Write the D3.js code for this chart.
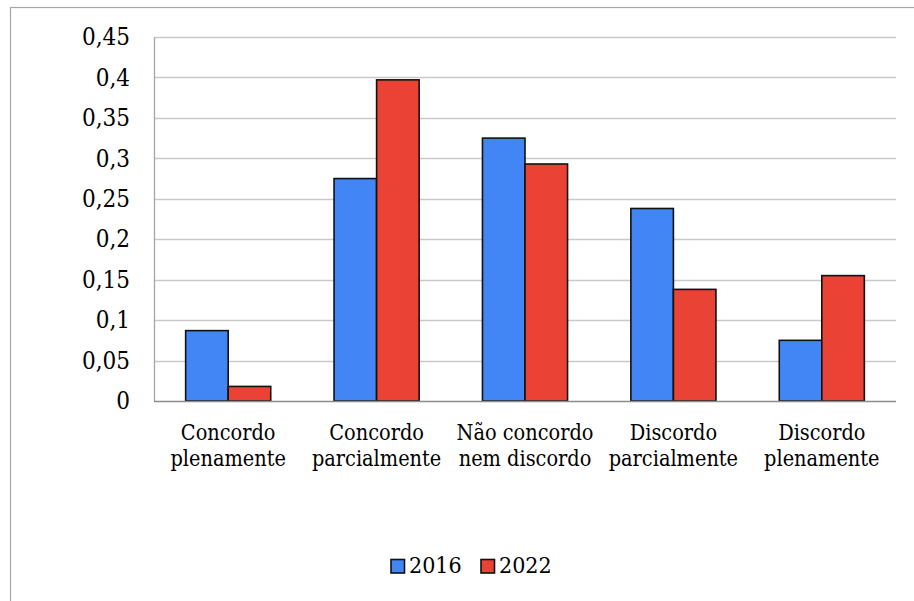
<!DOCTYPE html>
<html>
<head>
<meta charset="utf-8">
<script src="https://cdn.jsdelivr.net/npm/d3@7"></script>
<style>
  html, body { margin: 0; padding: 0; background: #fff; }
  svg { display: block; }
</style>
</head>
<body>
<svg id="chart" width="914" height="601"></svg>
<script>
// Answer categories (two-line labels)
const categories = [
  ["Concordo", "plenamente"],
  ["Concordo", "parcialmente"],
  ["Não concordo", "nem discordo"],
  ["Discordo", "parcialmente"],
  ["Discordo", "plenamente"]
];
const seriesNames = ["2016", "2022"];
const values2016 = [0.087, 0.275, 0.325, 0.238, 0.075];
const values2022 = [0.018, 0.397, 0.293, 0.138, 0.155];
const tickValues = [0, 0.05, 0.1, 0.15, 0.2, 0.25, 0.3, 0.35, 0.4, 0.45];
const colors = ["#4285f4", "#ea4335"];

const serifFont = "'DejaVu Serif Condensed', 'DejaVu Serif'";
const svg = d3.select("#chart");
const W = 914, H = 601;

// outer chart frame (runs past the right and bottom edges)
svg.append("rect")
  .attr("x", 10.5).attr("y", 7.5)
  .attr("width", W + 20).attr("height", H + 20)
  .attr("fill", "#fff").attr("stroke", "#a6a6a6").attr("stroke-width", 1.2);

const plotLeft = 154, plotRight = 896, plotTop = 37, plotBottom = 401;

const x = d3.scaleBand()
  .domain(d3.range(categories.length))
  .range([plotLeft, plotRight])
  .paddingInner(0.4267).paddingOuter(0.2133);
const xs = d3.scaleBand().domain(seriesNames).range([0, x.bandwidth()]);
const y = d3.scaleLinear().domain([0, 0.45]).range([plotBottom, plotTop]);

// gridlines
svg.append("g")
  .selectAll("line").data(tickValues.filter(d => d > 0)).join("line")
  .attr("x1", plotLeft).attr("x2", plotRight)
  .attr("y1", d => Math.round(y(d)) + 0.5).attr("y2", d => Math.round(y(d)) + 0.5)
  .attr("stroke", "#c9c9c9").attr("stroke-width", 1.3);

// y-axis labels
const fmt = d => d === 0 ? "0" : String(+d.toFixed(2)).replace(".", ",");
const yAxis = d3.axisLeft(y).tickValues(tickValues).tickFormat(fmt).tickSize(0).tickPadding(24);
const yg = svg.append("g").attr("transform", `translate(${plotLeft},0)`).call(yAxis);
yg.attr("font-family", null).attr("font-size", null);
yg.select(".domain").attr("stroke", "#a6a6a6").attr("stroke-width", 1.3);
yg.selectAll("text").attr("fill", "#000")
  .style("font-family", serifFont).style("font-size", "24px");

// bars
const groups = svg.append("g").selectAll("g")
  .data(categories.map((c, i) => ({ i, vals: [values2016[i], values2022[i]] })))
  .join("g")
  .attr("transform", d => `translate(${x(d.i)},0)`);

groups.selectAll("rect")
  .data(d => d.vals.map((v, k) => ({ v, k })))
  .join("rect")
  .attr("x", d => xs(seriesNames[d.k]))
  .attr("width", xs.bandwidth())
  .attr("y", d => y(d.v))
  .attr("height", d => y(0) - y(d.v))
  .attr("fill", d => colors[d.k])
  .attr("stroke", "#111").attr("stroke-width", 1.6);

// baseline
svg.append("line")
  .attr("x1", plotLeft).attr("x2", plotRight).attr("y1", plotBottom + 0.5).attr("y2", plotBottom + 0.5)
  .attr("stroke", "#8c8c8c").attr("stroke-width", 1.3);

// category labels
const xl = svg.append("g");
categories.forEach((lines, i) => {
  const cx = x(i) + x.bandwidth() / 2;
  const t = xl.append("text")
    .attr("x", cx)
    .attr("text-anchor", "middle")
    .style("font-family", serifFont).style("font-size", "21.5px");
  lines.forEach((ln, j) => {
    t.append("tspan").attr("x", cx).attr("y", 440 + j * 26).text(ln);
  });
});

// legend
const legend = svg.append("g");
const lx = [391, 481];
seriesNames.forEach((s, k) => {
  legend.append("rect")
    .attr("x", lx[k]).attr("y", 559.5).attr("width", 13.5).attr("height", 13.5)
    .attr("fill", colors[k]).attr("stroke", "#111").attr("stroke-width", 1.6);
  legend.append("text")
    .attr("x", lx[k] + 18).attr("y", 573)
    .style("font-family", serifFont).style("font-size", "23px")
    .text(s);
});
</script>
</body>
</html>
